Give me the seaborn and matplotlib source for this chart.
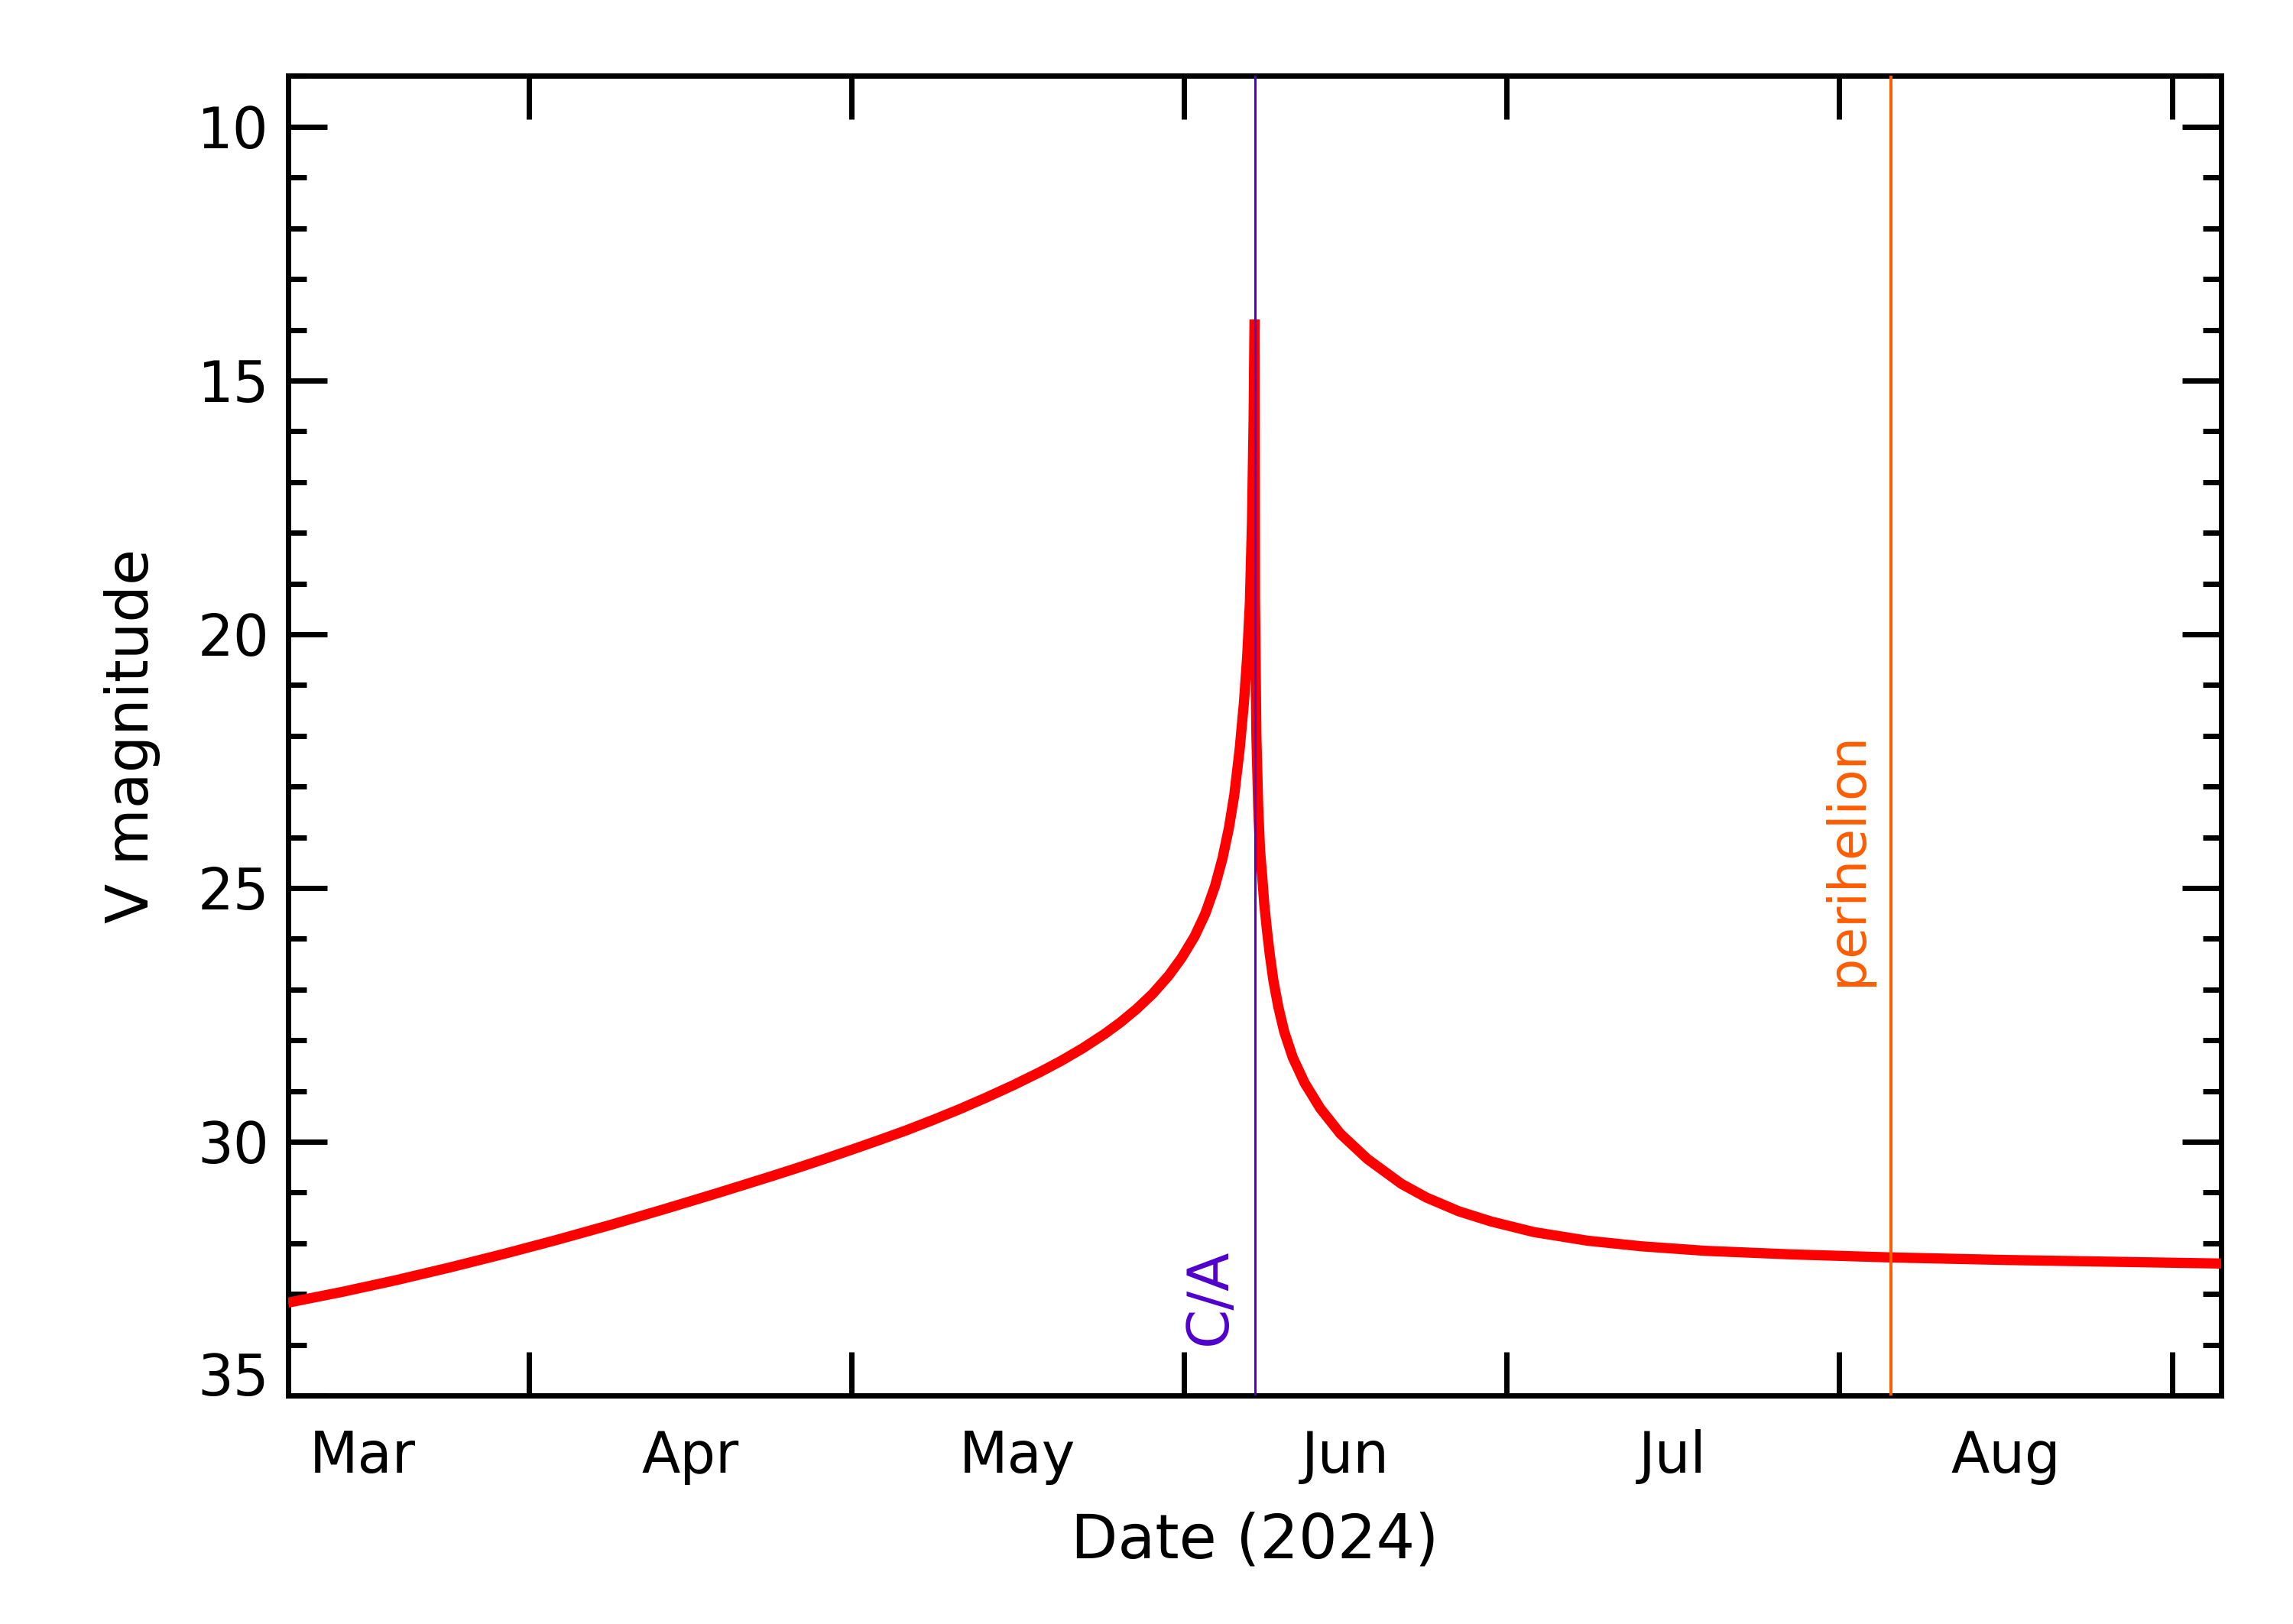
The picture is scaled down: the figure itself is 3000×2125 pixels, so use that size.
import numpy as np
import pandas as pd
import matplotlib
matplotlib.use("Agg")
import matplotlib.pyplot as plt
import matplotlib.dates as mdates
from matplotlib.ticker import FixedLocator, FixedFormatter, MultipleLocator, NullFormatter
import seaborn as sns

# ---------------- data ----------------
ca_time = pd.Timestamp("2024-06-07 13:40")          # close approach
perihelion_time = pd.Timestamp("2024-08-05 20:00")   # perihelion

days_from_ca = [-90, -85, -80, -75, -70, -65, -60, -55, -50, -47.5, -45, -42.5, -40,
                -37.5, -35, -32.5, -30, -27.5, -25, -22.5, -20, -18, -16, -14, -12.5,
                -11, -9.5, -8, -6.8, -5.6, -4.6, -3.7, -3.0, -2.4, -1.9, -1.4, -1.0,
                -0.7, -0.45, -0.25, -0.1, 0.0,
                0.03, 0.16, 0.33, 0.5, 0.72, 0.9, 1.14, 1.42, 1.75, 2.2, 2.75, 3.55,
                4.65, 6.1, 7.97, 10.5, 13.67, 16.0, 19.0, 22.0,
                26.0, 31.0, 36.0, 42.0, 50.0, 59.3, 70.0, 80.0, 90.0]
v_magnitude = [33.17, 32.96, 32.73, 32.48, 32.215, 31.935, 31.64, 31.33, 31.01, 30.845, 30.68, 30.51, 30.335,
               30.155, 29.97, 29.78, 29.575, 29.36, 29.13, 28.888, 28.628, 28.404, 28.156, 27.88, 27.648,
               27.385, 27.085, 26.725, 26.377, 25.957, 25.507, 24.967, 24.421, 23.821, 23.171, 22.271, 21.35,
               20.45, 19.4, 17.8, 15.8, 13.8,
               19.3, 22.0, 23.4, 24.25, 24.82, 25.33, 25.82, 26.33, 26.83, 27.34, 27.83, 28.34,
               28.84, 29.34, 29.84, 30.34, 30.83, 31.10, 31.37, 31.57,
               31.78, 31.95, 32.06, 32.15, 32.22, 32.28, 32.33, 32.365, 32.4]

month_labels = ["Mar", "Apr", "May", "Jun", "Jul", "Aug"]
y_tick_values = [10, 15, 20, 25, 30, 35]
window_days = 90

# ---------------- style ----------------
sns.set_style("ticks")
plt.rcParams["font.family"] = ["DejaVu Sans"]

df = pd.DataFrame({
    "date": ca_time + pd.to_timedelta(days_from_ca, unit="D"),
    "mag": v_magnitude,
})

fig = plt.figure(figsize=(15, 10.625), dpi=200)
ax = fig.add_axes([0.12567, 0.14071, 0.843, 0.81247])
ax.set_facecolor("white")

sns.lineplot(data=df, x="date", y="mag", ax=ax, color="#ff0000", linewidth=4.8,
             estimator=None, sort=False, zorder=3)
for ln in ax.get_lines():
    ln.set_solid_capstyle("butt")
    ln.set_solid_joinstyle("bevel")

ax.axvline(mdates.date2num(ca_time), color="#4f00cc", lw=1.1, zorder=5)
ax.axvline(mdates.date2num(perihelion_time), color="#ff5c00", lw=1.4, zorder=5)

# x axis: month boundaries as ticks, month names centred in each month
x0 = ca_time - pd.Timedelta(days=window_days)
x1 = ca_time + pd.Timedelta(days=window_days)
ax.set_xlim(mdates.date2num(x0), mdates.date2num(x1))
month_starts = pd.date_range("2024-03-01", "2024-09-01", freq="MS")
mids = month_starts[:-1] + (month_starts[1:] - month_starts[:-1]) / 2
ax.xaxis.set_major_locator(FixedLocator(mdates.date2num(month_starts.to_pydatetime())))
ax.xaxis.set_major_formatter(NullFormatter())
ax.xaxis.set_minor_locator(FixedLocator(mdates.date2num(mids.to_pydatetime())))
ax.xaxis.set_minor_formatter(FixedFormatter(month_labels))

ax.tick_params(axis="x", which="major", direction="in", length=20.5, width=2.5,
               top=True, bottom=True, labelbottom=False, color="black")
ax.tick_params(axis="x", which="minor", length=0, labelsize=26.5, pad=16,
               top=False, bottom=True, labelbottom=True, labelcolor="black")

# y axis (inverted magnitude)
ax.set_ylim(35, 9)
ax.yaxis.set_major_locator(FixedLocator(y_tick_values))
ax.yaxis.set_minor_locator(MultipleLocator(1))
ax.tick_params(axis="y", which="major", direction="in", length=18.2, width=2.5,
               left=True, right=True, labelleft=True, labelright=False,
               labelsize=26.5, pad=9, color="black", labelcolor="black")
ax.tick_params(axis="y", which="minor", direction="in", length=8.8, width=2.5,
               left=True, right=True, color="black")
ax.yaxis.get_major_ticks()[-1].label1.set_verticalalignment("baseline")

for s in ax.spines.values():
    s.set_visible(True)
    s.set_linewidth(2.5)
    s.set_color("black")

ax.set_xlabel("Date (2024)", fontsize=28.7, color="black")
ax.set_ylabel("V magnitude", fontsize=27.5, color="black")
ax.xaxis.set_label_coords(0.5, -0.088)
ax.yaxis.set_label_coords(-0.066, 0.5)

ax.annotate("C/A", xy=(mdates.date2num(ca_time), 0.038),
            xycoords=("data", "axes fraction"), xytext=(-13.7, 0),
            textcoords="offset points", rotation=90, rotation_mode="anchor",
            ha="left", va="baseline", color="#4f00cc", fontsize=26.5)
ax.annotate("perihelion", xy=(mdates.date2num(perihelion_time), 0.3105),
            xycoords=("data", "axes fraction"), xytext=(-13.7, 0),
            textcoords="offset points", rotation=90, rotation_mode="anchor",
            ha="left", va="baseline", color="#ff5c00", fontsize=24)

fig.savefig("out.png", dpi=200, facecolor="white")
